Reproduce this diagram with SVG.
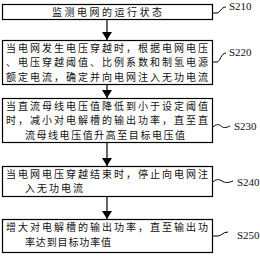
<svg xmlns="http://www.w3.org/2000/svg" width="260" height="256" viewBox="0 0 260 256">
<defs>
<marker id="ah" viewBox="0 0 8 10" refX="8" refY="5" markerWidth="8" markerHeight="10" orient="auto" markerUnits="userSpaceOnUse">
<path d="M0,0 L8,5 L0,10 Z" fill="#000"/>
</marker>
<style>
.box{fill:#fff;stroke:#000;stroke-width:1.2}
.t{font-family:"Noto Sans CJK SC","Noto Sans",sans-serif;font-size:10px;fill:#111}
.lbl{font-family:"Liberation Serif","Times New Roman",serif;font-size:11px;fill:#111}
.c{fill:none;stroke:#000;stroke-width:1}
.ar{fill:none;stroke:#000;stroke-width:1.2;marker-end:url(#ah)}
</style>
</defs>
<rect width="260" height="256" fill="#fff"/>
<g id="n1">
<rect class="box" x="2.5" y="4.5" width="210" height="15"/>
<text class="t" x="107" y="15.8" text-anchor="middle" textLength="110" lengthAdjust="spacing">监测电网的运行状态</text>
</g>
<g id="n2">
<rect class="box" x="2.5" y="40.5" width="210" height="44"/>
<text class="t" x="6" y="51.5" textLength="202" lengthAdjust="spacing">当电网发生电压穿越时，根据电网电压</text>
<text class="t" x="6" y="66" textLength="202" lengthAdjust="spacing">、电压穿越阈值、比例系数和制氢电源</text>
<text class="t" x="6" y="80.5" textLength="202" lengthAdjust="spacing">额定电流，确定并向电网注入无功电流</text>
</g>
<g id="n3">
<rect class="box" x="2.5" y="98.5" width="210" height="44"/>
<text class="t" x="6" y="109.5" textLength="202" lengthAdjust="spacing">当直流母线电压值降低到小于设定阈值</text>
<text class="t" x="6" y="124" textLength="202" lengthAdjust="spacing">时，减小对电解槽的输出功率，直至直</text>
<text class="t" x="25" y="138.5" textLength="160" lengthAdjust="spacing">流母线电压值升高至目标电压值</text>
</g>
<g id="n4">
<rect class="box" x="2.5" y="166.5" width="210" height="30"/>
<text class="t" x="6" y="177.5" textLength="202" lengthAdjust="spacing">当电网电压穿越结束时，停止向电网注</text>
<text class="t" x="25" y="192" textLength="58" lengthAdjust="spacing">入无功电流</text>
</g>
<g id="n5">
<rect class="box" x="2.5" y="219.5" width="210" height="33"/>
<text class="t" x="6" y="231" textLength="202" lengthAdjust="spacing">增大对电解槽的输出功率，直至输出功</text>
<text class="t" x="25" y="245.5" textLength="86" lengthAdjust="spacing">率达到目标功率值</text>
</g>
<g id="labels">
<text class="lbl" x="229" y="10">S210</text>
<text class="lbl" x="229" y="56">S220</text>
<text class="lbl" x="234" y="130">S230</text>
<text class="lbl" x="237" y="186">S240</text>
<text class="lbl" x="237" y="239">S250</text>
</g>
<g id="connectors">
<line class="ar" x1="107" y1="20" x2="107" y2="40"/>
<line class="ar" x1="107" y1="85" x2="107" y2="98"/>
<line class="ar" x1="107" y1="143" x2="107" y2="166"/>
<line class="ar" x1="107" y1="197" x2="107" y2="219"/>
<path class="c" d="M213,13 H217 C220,13 221,7 226,7"/>
<path class="c" d="M213,62 H217 C220,62 221,53 226,53"/>
<path class="c" d="M213,127 C216,124 219,124 221,126 C223,128 226,128 230,126"/>
<path class="c" d="M213,182 C216,179 219,179 222,181 C225,183 228,183 233,181"/>
<path class="c" d="M213,236 H218 C221,236 223,232 228,232"/>
</g>
</svg>
